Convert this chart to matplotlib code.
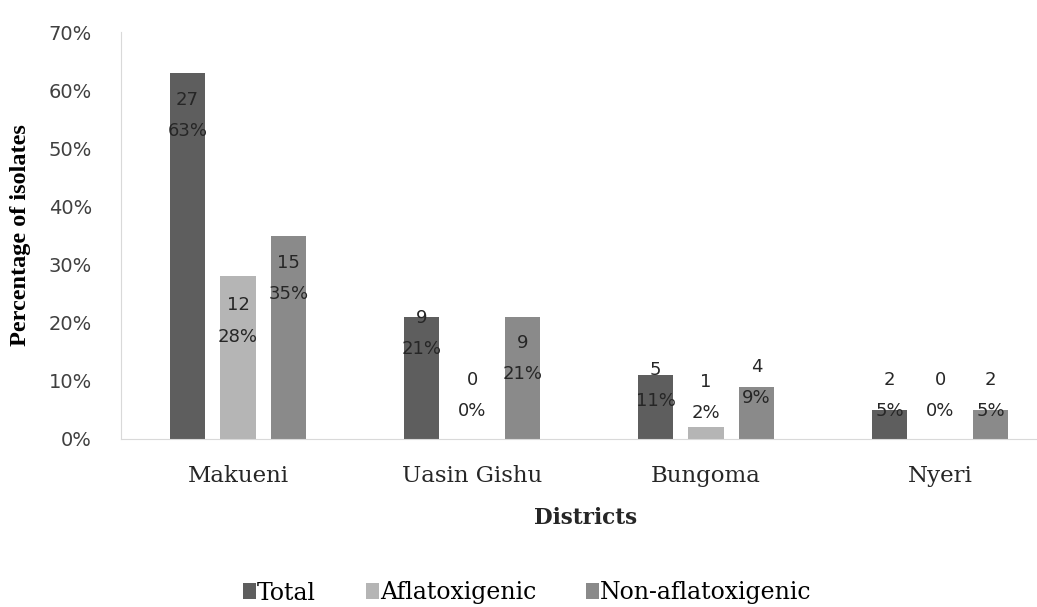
import numpy as np
from matplotlib import pyplot as plt

districts = ['Makueni', 'Uasin Gishu', 'Bungoma', 'Nyeri']
series = ['Total', 'Aflatoxigenic', 'Non-aflatoxigenic']
counts = {
    'Total': [27, 9, 5, 2],
    'Aflatoxigenic': [12, 0, 1, 0],
    'Non-aflatoxigenic': [15, 9, 4, 2],
}
percent = {
    'Total': [63, 21, 11, 5],
    'Aflatoxigenic': [28, 0, 2, 0],
    'Non-aflatoxigenic': [35, 21, 9, 5],
}

colors = {'Total': '#5e5e5e', 'Aflatoxigenic': '#b5b5b5', 'Non-aflatoxigenic': '#8a8a8a'}
# where the first line of each data label sits (layout only, % units)
label_top = {
    'Total': [58.3, 20.8, 11.9, 10.2],
    'Aflatoxigenic': [23.0, 10.2, 9.8, 10.2],
    'Non-aflatoxigenic': [30.3, 16.5, 12.4, 10.2],
}

fig = plt.figure(figsize=(10.37, 6.07), dpi=100)
ax = fig.add_axes([121 / 1037, 1 - 439 / 607, 1 - 121 / 1037, (439 - 32) / 607])

x = np.arange(len(districts))
width = 0.15
step = 0.216
for i, s in enumerate(series):
    xs = x + (i - 1) * step
    ax.bar(xs, percent[s], width=width, color=colors[s], label=s, zorder=2)
    for xx, c, p, ty in zip(xs, counts[s], percent[s], label_top[s]):
        ax.text(xx, ty, str(c), ha='center', va='center', fontsize=13, color='#262626')
        ax.text(xx, ty - 5.4, f'{p}%', ha='center', va='center', fontsize=13, color='#262626')

ax.set_xlim(-0.5, -0.5 + 916 / 234)
ax.set_ylim(0, 70)
ax.set_yticks(range(0, 71, 10))
ax.set_yticklabels([f'{v}%' for v in range(0, 71, 10)], fontsize=14, color='#404040')
ax.set_xticks(x)
ax.set_xticklabels(districts, fontsize=16.5, family='DejaVu Serif', color='#262626')
ax.tick_params(length=0)
ax.tick_params(axis='y', pad=21)
ax.tick_params(axis='x', pad=19)

for side in ['top', 'right']:
    ax.spines[side].set_visible(False)
for side in ['left', 'bottom']:
    ax.spines[side].set_color('#d9d9d9')

ax.set_ylabel('Percentage of isolates', fontsize=17.5, family='Liberation Serif',
              fontweight='bold')
ax.yaxis.set_label_coords(-90 / 916, 0.5)
fig.text(586 / 1037, 1 - 518 / 607, 'Districts', ha='center', va='center',
         fontsize=15.5, family='DejaVu Serif', fontweight='bold', color='#262626')

leg = fig.legend(loc='center', bbox_to_anchor=(527 / 1037, 1 - 593 / 607), ncol=3,
                 frameon=False, handlelength=0.55, handleheight=0.65, handletextpad=0.05,
                 columnspacing=2.1, prop={'family': 'DejaVu Serif', 'size': 17})

plt.savefig('out.png', dpi=100)
plt.close()
